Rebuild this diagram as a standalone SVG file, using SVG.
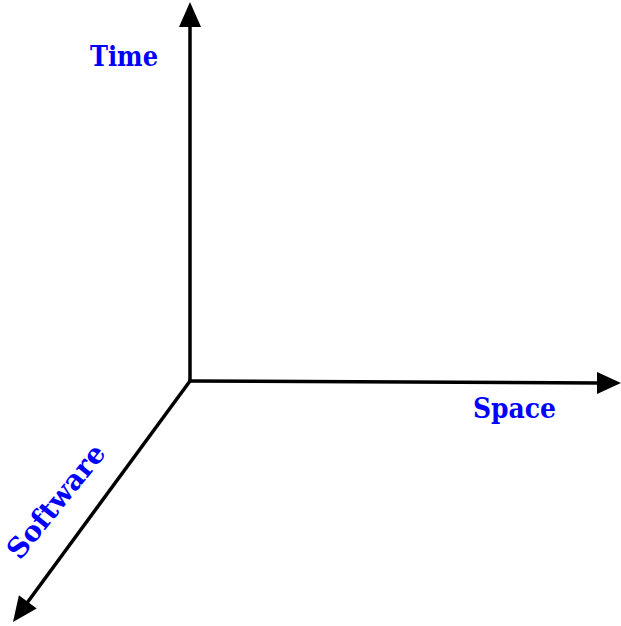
<svg xmlns="http://www.w3.org/2000/svg" width="621" height="626" viewBox="0 0 621 626">
<style>
.ax{stroke:#000;stroke-width:3.5;fill:none}
.hd{fill:#000}
.lb{font-family:"DejaVu Serif Condensed","DejaVu Serif","Liberation Serif",serif;font-size:28px;fill:#0000ff;font-weight:bold}
</style>
<rect width="621" height="626" fill="#fff"/>
<g id="connectors">
<path class="ax" d="M190,382 L190,24"/>
<polygon class="hd" points="190,2 201,27 179,27"/>
<path class="ax" d="M188,381 L600,383"/>
<polygon class="hd" points="621,383 597,394 597,372"/>
<path class="ax" d="M190,381 L27,603"/>
<polygon class="hd" points="13,622 18.9,595.3 36.7,608.4"/>
</g>
<g id="time"><text class="lb" x="90" y="66" textLength="68" lengthAdjust="spacingAndGlyphs">Time</text></g>
<g id="space"><text class="lb" x="473" y="418" textLength="83" lengthAdjust="spacingAndGlyphs">Space</text></g>
<g id="software"><text class="lb" transform="translate(20,561) rotate(-51)" textLength="138" lengthAdjust="spacingAndGlyphs">Software</text></g>
</svg>
